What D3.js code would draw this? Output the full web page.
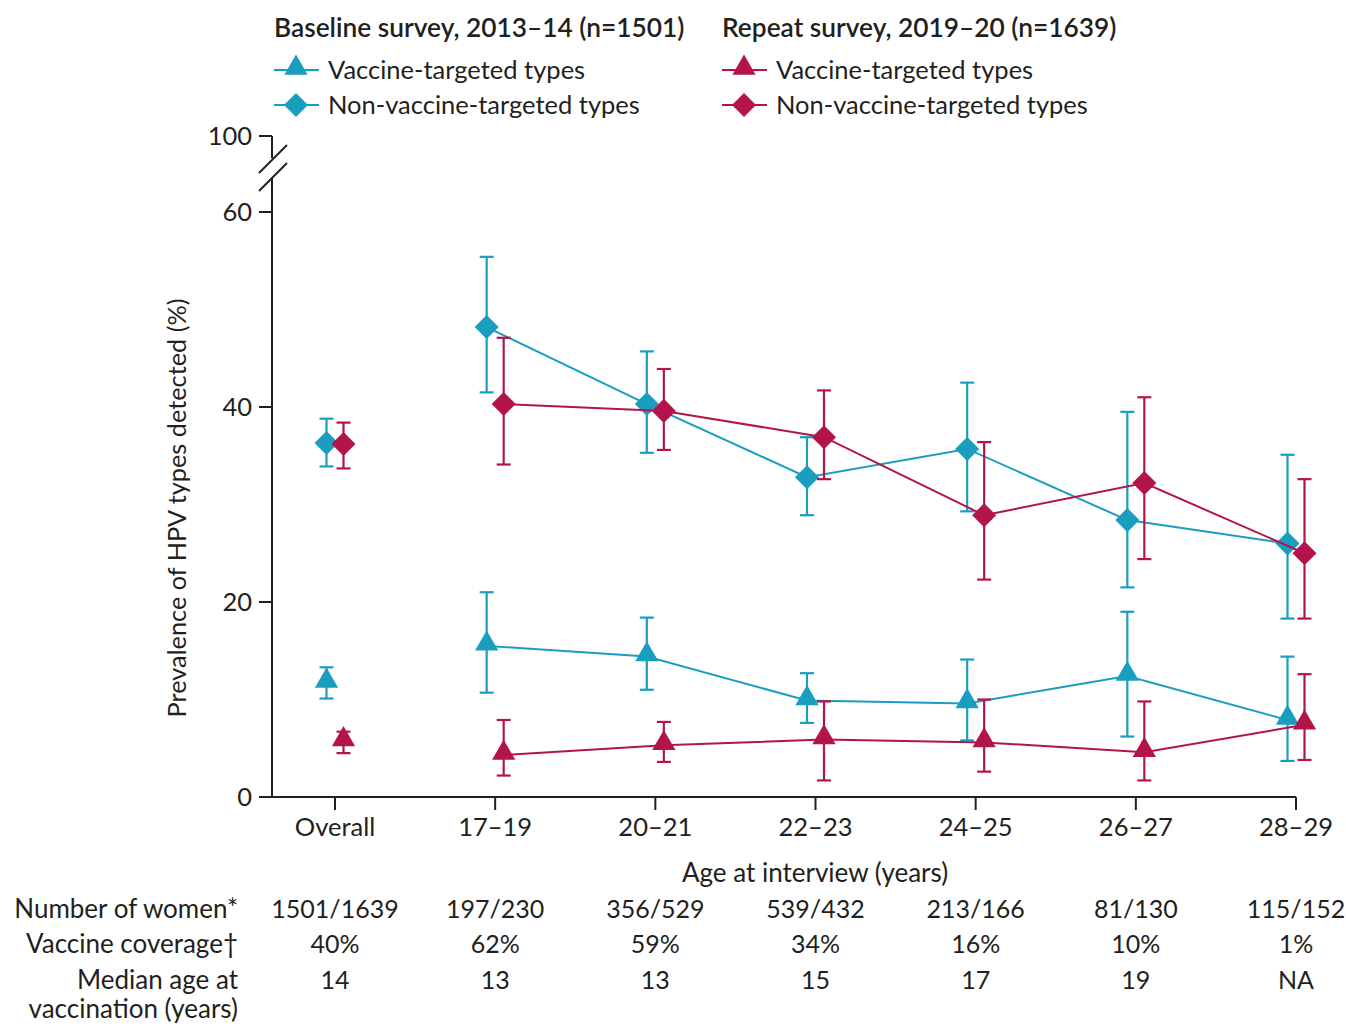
<!DOCTYPE html>
<html>
<head>
<meta charset="utf-8">
<script src="https://cdn.jsdelivr.net/npm/d3@7"></script>
<style>
  body { margin: 0; background: #fff; }
  svg text { font-family: Lato, "Open Sans", sans-serif; fill: #231f20; }
</style>
</head>
<body>
<svg id="chart" width="1346" height="1026"></svg>
<script>
// Categories and table rows
const categories = ['Overall', '17–19', '20–21', '22–23', '24–25', '26–27', '28–29'];
const numberWomen = ['1501/1639', '197/230', '356/529', '539/432', '213/166', '81/130', '115/152'];
const coverage = ['40%', '62%', '59%', '34%', '16%', '10%', '1%'];
const medianAge = ['14', '13', '13', '15', '17', '19', 'NA'];

// Baseline survey 2013-14
const baseVax = [11.7, 15.5, 14.4, 9.9, 9.6, 12.4, 7.9];
const baseVaxLo = [10.1, 10.7, 11.0, 7.6, 5.8, 6.2, 3.7];
const baseVaxHi = [13.3, 21.0, 18.4, 12.7, 14.1, 19.0, 14.4];
const baseNon = [36.3, 48.2, 40.3, 32.8, 35.7, 28.4, 26.0];
const baseNonLo = [33.9, 41.5, 35.3, 28.9, 29.3, 21.5, 18.3];
const baseNonHi = [38.8, 55.4, 45.7, 36.9, 42.5, 39.5, 35.1];

// Repeat survey 2019-20
const repVax = [5.7, 4.3, 5.3, 5.9, 5.6, 4.6, 7.4];
const repVaxLo = [4.5, 2.2, 3.6, 1.7, 2.6, 1.7, 3.8];
const repVaxHi = [6.7, 7.9, 7.7, 9.8, 10.0, 9.8, 12.6];
const repNon = [36.2, 40.3, 39.6, 36.9, 28.9, 32.2, 25.0];
const repNonLo = [33.7, 34.1, 35.6, 32.6, 22.3, 24.4, 18.3];
const repNonHi = [38.4, 47.1, 43.9, 41.7, 36.4, 41.0, 32.6];

const yTicks = [0, 20, 40, 60];
const yBreakTick = 100;

const BLUE = '#1a9ec0';
const RED = '#b3154b';
const INK = '#231f20';

const svg = d3.select('#chart');

const x = d3.scalePoint().domain(categories).range([335, 1296]);
const y = d3.scaleLinear().domain([0, 60]).range([797, 212]);
const axisX = 272;
const yTop = y(60) - 76;

// Axes
const axes = svg.append('g').attr('stroke', INK).attr('stroke-width', 2).attr('fill', 'none');
axes.append('line').attr('x1', axisX).attr('x2', axisX).attr('y1', y(0)).attr('y2', 178);
axes.append('line').attr('x1', axisX).attr('x2', axisX).attr('y1', yTop).attr('y2', 158);
axes.append('line').attr('x1', axisX).attr('x2', x('28–29')).attr('y1', y(0)).attr('y2', y(0));
// break marks
axes.append('line').attr('x1', 259).attr('y1', 173).attr('x2', 287).attr('y2', 145);
axes.append('line').attr('x1', 259).attr('y1', 191).attr('x2', 287).attr('y2', 163);

yTicks.forEach(t => {
  axes.append('line').attr('x1', axisX - 13).attr('x2', axisX).attr('y1', y(t)).attr('y2', y(t));
  svg.append('text').attr('x', 252).attr('y', y(t)).attr('dy', '0.35em')
    .attr('text-anchor', 'end').attr('font-size', 25.5).text(t);
});
axes.append('line').attr('x1', axisX - 13).attr('x2', axisX).attr('y1', yTop).attr('y2', yTop);
svg.append('text').attr('x', 252).attr('y', yTop).attr('dy', '0.35em')
  .attr('text-anchor', 'end').attr('font-size', 25.5).text(yBreakTick);

categories.forEach(c => {
  axes.append('line').attr('x1', x(c)).attr('x2', x(c)).attr('y1', y(0)).attr('y2', y(0) + 13);
  svg.append('text').attr('x', x(c)).attr('y', 836).attr('text-anchor', 'middle')
    .attr('font-size', 25.5).text(c);
});

svg.append('text').attr('x', 815).attr('y', 882).attr('text-anchor', 'middle')
  .attr('font-size', 26).text('Age at interview (years)');

svg.append('text')
  .attr('transform', 'translate(186,508) rotate(-90)')
  .attr('text-anchor', 'middle').attr('font-size', 25.3)
  .text('Prevalence of HPV types detected (%)');

// Series
const triangle = d3.symbol().type(d3.symbolTriangle).size(235);
const diamond = d3.symbol().type(d3.symbolSquare).size(290);

function drawSeries(vals, lo, hi, color, shape, dx) {
  const g = svg.append('g');
  const pts = categories.map((c, i) => ({ cx: x(c) + dx, v: vals[i], lo: lo[i], hi: hi[i], i }));
  const line = d3.line().x(d => d.cx).y(d => y(d.v));
  g.append('path').datum(pts.slice(1)).attr('d', line)
    .attr('fill', 'none').attr('stroke', color).attr('stroke-width', 2);

  const eb = g.append('g').attr('stroke', color).attr('stroke-width', 2.2);
  pts.forEach(d => {
    eb.append('line').attr('x1', d.cx).attr('x2', d.cx).attr('y1', y(d.lo)).attr('y2', y(d.hi));
    eb.append('line').attr('x1', d.cx - 7).attr('x2', d.cx + 7).attr('y1', y(d.lo)).attr('y2', y(d.lo));
    eb.append('line').attr('x1', d.cx - 7).attr('x2', d.cx + 7).attr('y1', y(d.hi)).attr('y2', y(d.hi));
  });

  g.selectAll('path.mark').data(pts).join('path').attr('class', 'mark')
    .attr('d', shape === 'tri' ? triangle : diamond)
    .attr('transform', d => shape === 'tri'
      ? `translate(${d.cx},${y(d.v) - 2})`
      : `translate(${d.cx},${y(d.v)}) rotate(45)`)
    .attr('fill', color);
}

drawSeries(baseNon, baseNonLo, baseNonHi, BLUE, 'dia', -8.5);
drawSeries(baseVax, baseVaxLo, baseVaxHi, BLUE, 'tri', -8.5);
drawSeries(repNon, repNonLo, repNonHi, RED, 'dia', 8.5);
drawSeries(repVax, repVaxLo, repVaxHi, RED, 'tri', 8.5);

// Legend
function legendBlock(x0, title, color) {
  svg.append('text').attr('x', x0).attr('y', 37).attr('font-size', 26.3)
    .attr('font-weight', 600).text(title);
  [['tri', 'Vaccine-targeted types', 70], ['dia', 'Non-vaccine-targeted types', 105]].forEach(([s, label, ly]) => {
    svg.append('line').attr('x1', x0).attr('x2', x0 + 45).attr('y1', ly).attr('y2', ly)
      .attr('stroke', color).attr('stroke-width', 2);
    svg.append('path').attr('d', s === 'tri' ? triangle : diamond)
      .attr('transform', s === 'tri' ? `translate(${x0 + 22},${ly - 2})` : `translate(${x0 + 22},${ly}) rotate(45)`)
      .attr('fill', color);
    svg.append('text').attr('x', x0 + 54).attr('y', ly).attr('dy', '0.35em')
      .attr('font-size', 25.5).text(label);
  });
}
legendBlock(274, 'Baseline survey, 2013–14 (n=1501)', BLUE);
legendBlock(722, 'Repeat survey, 2019–20 (n=1639)', RED);

// Table below
const rows = [
  ['Number of women*', numberWomen, 918],
  ['Vaccine coverage†', coverage, 953],
  ['Median age at', medianAge, 989]
];
rows.forEach(([label, vals, ry]) => {
  svg.append('text').attr('x', 238).attr('y', ry).attr('text-anchor', 'end')
    .attr('font-size', 26).text(label);
  vals.forEach((v, i) => {
    svg.append('text').attr('x', x(categories[i])).attr('y', ry).attr('text-anchor', 'middle')
      .attr('font-size', 25).text(v);
  });
});
svg.append('text').attr('x', 238).attr('y', 1018).attr('text-anchor', 'end')
  .attr('font-size', 26).text('vaccination (years)');
</script>
</body>
</html>
